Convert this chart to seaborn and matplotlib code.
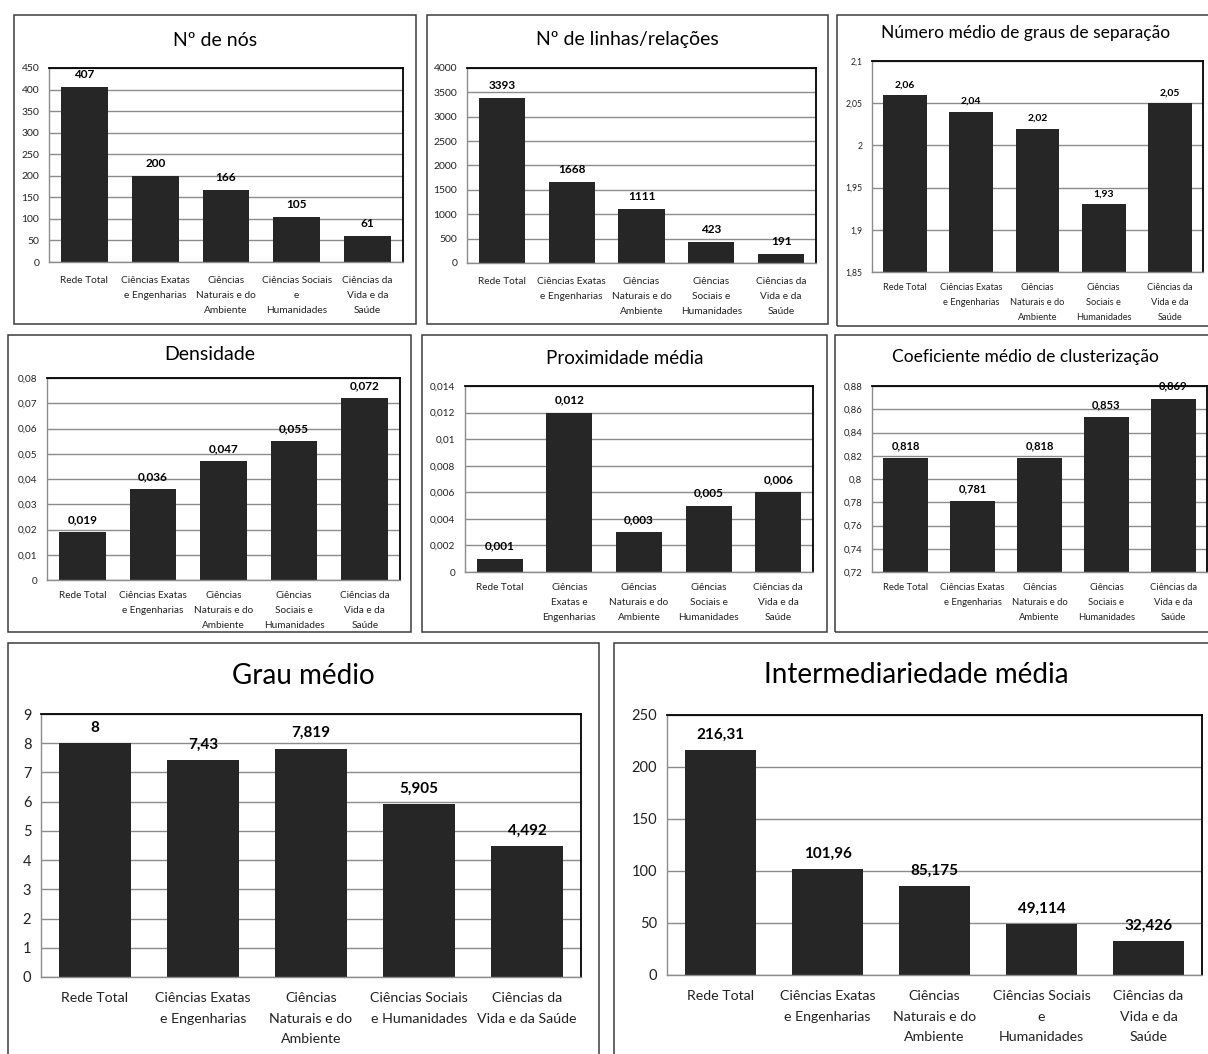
import numpy as np
import pandas as pd
import matplotlib
matplotlib.use("Agg")
import matplotlib.pyplot as plt
from matplotlib.patches import Rectangle
import seaborn as sns

sns.set_style("white")
plt.rcParams["font.family"] = ["Lato", "DejaVu Sans"]

# ---- data -------------------------------------------------------------
grupos = ["Rede Total", "Ciências Exatas e Engenharias",
          "Ciências Naturais e do Ambiente", "Ciências Sociais e Humanidades",
          "Ciências da Vida e da Saúde"]

nos = [407, 200, 166, 105, 61]
linhas = [3393, 1668, 1111, 423, 191]
separacao = [2.06, 2.04, 2.02, 1.93, 2.05]
densidade = [0.019, 0.036, 0.047, 0.055, 0.072]
proximidade = [0.001, 0.012, 0.003, 0.005, 0.006]
clusterizacao = [0.818, 0.781, 0.818, 0.853, 0.869]
grau = [8, 7.43, 7.819, 5.905, 4.492]
intermediariedade = [216.31, 101.96, 85.175, 49.114, 32.426]

# category labels as they wrap in each chart
rotulos_a = ["Rede Total", "Ciências Exatas\ne Engenharias",
             "Ciências\nNaturais e do\nAmbiente", "Ciências Sociais\ne\nHumanidades",
             "Ciências da\nVida e da\nSaúde"]
rotulos_b = ["Rede Total", "Ciências Exatas\ne Engenharias",
             "Ciências\nNaturais e do\nAmbiente", "Ciências\nSociais e\nHumanidades",
             "Ciências da\nVida e da\nSaúde"]
rotulos_c = ["Rede Total", "Ciências\nExatas e\nEngenharias",
             "Ciências\nNaturais e do\nAmbiente", "Ciências\nSociais e\nHumanidades",
             "Ciências da\nVida e da\nSaúde"]
rotulos_d = ["Rede Total", "Ciências Exatas\ne Engenharias",
             "Ciências\nNaturais e do\nAmbiente", "Ciências Sociais\ne Humanidades",
             "Ciências da\nVida e da Saúde"]

titulos = ["Nº de nós", "Nº de linhas/relações", "Número médio de graus de separação",
           "Densidade", "Proximidade média", "Coeficiente médio de clusterização",
           "Grau médio", "Intermediariedade média"]

# ---- layout (pixels on a 1208 x 1054 canvas) ---------------------------
W, H = 1208, 1054
BAR = "#262626"
GRID = "#8c8c8c"

paineis = [
    dict(v=nos, lab=rotulos_a, t=titulos[0], box=(14, 15, 416, 324), plot=(49, 68, 403, 262),
         ty=40, ts=14, lim=(0, 450), step=50, fs_tick=7.5, fs_cat=7.3, fs_val=8.5, pad=5, cpad=10),
    dict(v=linhas, lab=rotulos_b, t=titulos[1], box=(427, 15, 828, 324), plot=(467, 68, 816, 263),
         ty=40, ts=14, lim=(0, 4000), step=500, fs_tick=7.5, fs_cat=7.3, fs_val=8.5, pad=5, cpad=10),
    dict(v=separacao, lab=rotulos_b, t=titulos[2], box=(837, 15, 1215, 326), plot=(872, 61, 1203, 272),
         ty=33, ts=12.5, lim=(1.85, 2.1), step=0.05, fs_tick=6.2, fs_cat=6.7, fs_val=7.5, pad=4, cpad=8),
    dict(v=densidade, lab=rotulos_b, t=titulos[3], box=(8, 335, 411, 632), plot=(47, 378, 400, 580),
         ty=355, ts=14, lim=(0, 0.08), step=0.01, fs_tick=7.2, fs_cat=7.2, fs_val=8.5, pad=5, cpad=8),
    dict(v=proximidade, lab=rotulos_c, t=titulos[4], box=(422, 335, 827, 632), plot=(465, 386, 813, 572),
         ty=358, ts=13.5, lim=(0, 0.014), step=0.002, fs_tick=7.2, fs_cat=7.2, fs_val=8.5, pad=5, cpad=8),
    dict(v=clusterizacao, lab=rotulos_b, t=titulos[5], box=(835, 335, 1215, 632), plot=(872, 386, 1207, 572),
         ty=357, ts=12.5, lim=(0.72, 0.88), step=0.02, fs_tick=6.8, fs_cat=6.8, fs_val=8, pad=5, cpad=8),
    dict(v=grau, lab=rotulos_d, t=titulos[6], box=(8, 643, 599, 1062), plot=(41, 714, 581, 977),
         ty=676, ts=20, lim=(0, 9), step=1, fs_tick=10.5, fs_cat=10.2, fs_val=11, pad=6, cpad=11),
    dict(v=intermediariedade, lab=rotulos_a, t=titulos[7], box=(614, 643, 1218, 1062), plot=(667, 715, 1202, 975),
         ty=675, ts=20, lim=(0, 250), step=50, fs_tick=10.5, fs_cat=10.2, fs_val=11, pad=6, cpad=11),
]


def br(v):
    """Number with a decimal comma, as printed on the charts."""
    return f"{round(v, 6):g}".replace(".", ",")


fig = plt.figure(figsize=(W / 100, H / 100), dpi=100)

for p in paineis:
    bx0, by0, bx1, by1 = p["box"]
    fig.patches.append(Rectangle((bx0 / W, 1 - by1 / H), (bx1 - bx0) / W, (by1 - by0) / H,
                                 transform=fig.transFigure, fill=False,
                                 edgecolor="#3c3c3c", linewidth=1.1, zorder=0))
    fig.text((bx0 + bx1) / 2 / W, 1 - p["ty"] / H, p["t"], ha="center", va="center",
             fontsize=p["ts"], color="black")

    px0, py0, px1, py1 = p["plot"]
    ax = fig.add_axes([px0 / W, 1 - py1 / H, (px1 - px0) / W, (py1 - py0) / H])
    df = pd.DataFrame({"grupo": grupos, "valor": p["v"]})
    sns.barplot(data=df, x="grupo", y="valor", ax=ax, color=BAR, saturation=1,
                width=0.66, edgecolor="none")

    lo, hi = p["lim"]
    ax.set_ylim(lo, hi)
    ax.set_xlim(-0.5, 4.5)
    ax.set_xlabel("")
    ax.set_ylabel("")

    yt = np.arange(lo, hi + p["step"] / 2, p["step"])
    ax.set_yticks(yt, [br(t) for t in yt])
    ax.set_xticks(np.arange(-0.5, 5, 1), [""] * 6)
    ax.set_xticks(range(5), p["lab"], minor=True)

    ax.tick_params(axis="y", which="major", length=4, width=0.8, color=GRID,
                   direction="out", pad=3, labelsize=p["fs_tick"], labelcolor="#222222")
    ax.tick_params(axis="x", which="major", length=4, width=0.8, color=GRID, direction="out")
    ax.tick_params(axis="x", which="minor", length=0, pad=p["cpad"],
                   labelsize=p["fs_cat"], labelcolor="#222222")
    for lbl in ax.get_xticklabels(minor=True):
        lbl.set_linespacing(1.85)

    ax.yaxis.grid(True, color=GRID, linewidth=1)
    ax.set_axisbelow(True)
    for side in ("top", "right"):
        ax.spines[side].set_color("black")
        ax.spines[side].set_linewidth(1.3)
    for side in ("left", "bottom"):
        ax.spines[side].set_color(GRID)
        ax.spines[side].set_linewidth(1)

    ax.bar_label(ax.containers[0], labels=[br(v) for v in p["v"]], padding=p["pad"],
                 fontsize=p["fs_val"], fontweight="bold", color="black", clip_on=False)

fig.savefig("out.png", dpi=100, facecolor="white")
